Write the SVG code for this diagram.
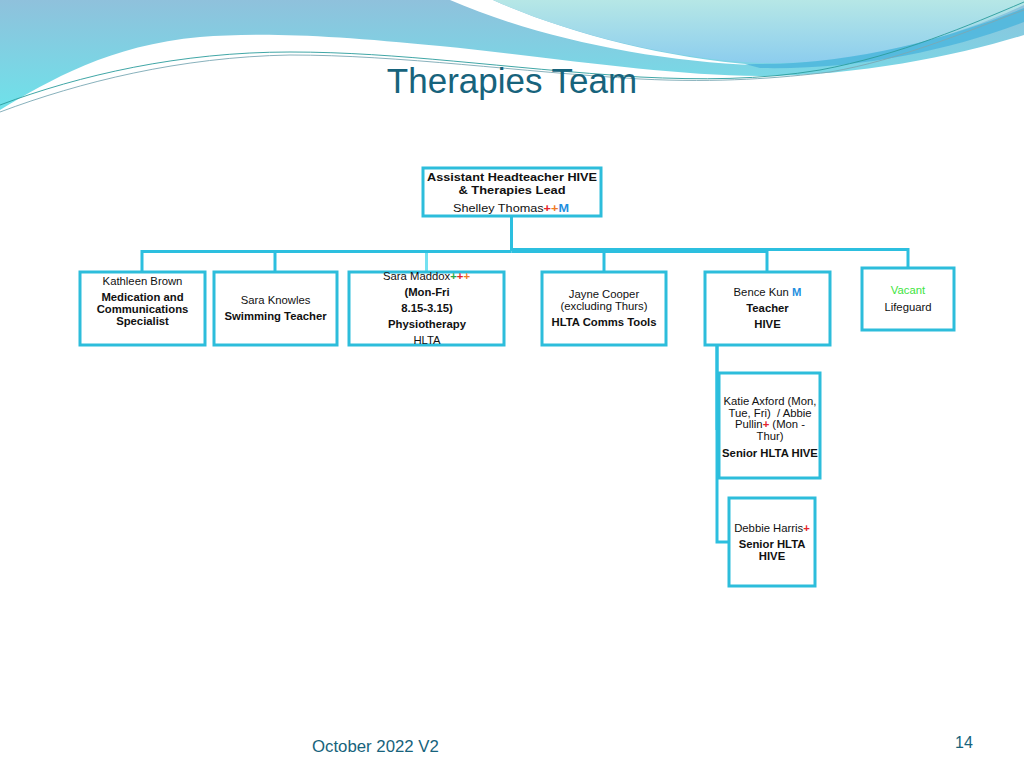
<svg xmlns="http://www.w3.org/2000/svg" width="1024" height="768" viewBox="0 0 1024 768">
  <defs>
    <linearGradient id="gLeft" x1="0" y1="0" x2="0" y2="1">
      <stop offset="0" stop-color="#8fc1dc"/>
      <stop offset="1" stop-color="#6ee2ea"/>
    </linearGradient>
    <linearGradient id="gBlob" x1="0" y1="0" x2="0" y2="1">
      <stop offset="0" stop-color="#b6e7e6"/>
      <stop offset="1" stop-color="#8ccdee"/>
    </linearGradient>
    <style>
      .box { fill: #ffffff; stroke: #2dbddb; stroke-width: 3; }
      .con { fill: none; stroke: #2cbfdf; stroke-width: 3; }
      .conl { fill: none; stroke: #74e1f1; stroke-width: 3; }
      .t { font-family: "Liberation Sans", Arial, sans-serif; font-size: 11.3px; fill: #111111; text-anchor: middle; }
      .b { font-weight: bold; }
      .red { fill: #e4242c; font-weight: bold; }
      .org { fill: #f07a22; font-weight: bold; }
      .grn { fill: #2aa845; font-weight: bold; }
      .blu { fill: #1f8fe0; font-weight: bold; }
      .vac { fill: #3ee43e; }
      .teal { font-family: "Liberation Sans", Arial, sans-serif; fill: #17637c; }
      .wl { fill: none; stroke-width: 0.9; }
    </style>
  </defs>

  <rect x="0" y="0" width="1024" height="768" fill="#ffffff"/>

  <!-- header background -->
  <g id="header-bg">
    <path d="M0,0 L1024,0 L1024,35 C960,55 860,76 760,76 C660,75 560,58 440,46 C330,35 260,32 200,37 C110,45 50,80 0,110 Z" fill="url(#gLeft)"/>
    <path d="M450,0 C530,35 650,62 757,65 C660,58 560,30 493,0 Z" fill="#ffffff"/>
    <path d="M493,0 C560,30 660,58 760,63 C860,66 960,35 1024,5 L1024,0 Z" fill="url(#gBlob)"/>
    <path d="M745,64 C850,66 950,38 1024,8 L1024,22 C950,50 860,70 760,68 Z" fill="#4db6dd" opacity="0.85"/>
    <path class="wl" stroke="#2a9c9c" d="M0,105 C80,75 180,52 290,52 C400,52 500,68 640,77 C700,80 760,80 820,70 C900,55 970,25 1024,2"/>
    <path class="wl" stroke="#7aa8b4" d="M0,112 C80,82 180,57 290,55 C400,55 520,72 640,79 C720,83 780,78 830,72 C900,60 970,30 1024,10"/>
  </g>

  <text class="teal" x="512" y="93" font-size="35" text-anchor="middle">Therapies Team</text>

  <!-- connectors -->
  <g id="connectors">
    <path class="con" d="M511.5,216 V249.5 H908 V268"/>
    <path class="con" d="M511.5,251.5 H142 V272"/>
    <path class="con" d="M275,251.5 V272"/>
    <path class="conl" d="M426.5,253 V272"/>
    <path class="con" d="M511.5,251.5 H767 V272"/>
    <path class="con" d="M604,251.5 V272"/>
    <path class="con" d="M717,345 V542 H729"/>
    <path class="con" stroke="#1ea6dc" d="M717,345 V430"/>
  </g>

  <g id="node-shelley">
    <rect class="box" x="423" y="168" width="178" height="48"/>
    <text class="t b" x="512" y="180.5" font-size="13.3" textLength="170" lengthAdjust="spacingAndGlyphs">Assistant Headteacher HIVE</text>
    <text class="t b" x="512" y="194" font-size="13.3" textLength="107" lengthAdjust="spacingAndGlyphs">&amp; Therapies Lead</text>
    <text class="t" x="511" y="211.7" font-size="13" textLength="116" lengthAdjust="spacingAndGlyphs">Shelley Thomas<tspan class="red">+</tspan><tspan class="org">+</tspan><tspan class="blu" font-weight="normal">M</tspan></text>
  </g>

  <g id="node-kathleen">
    <rect class="box" x="80" y="272" width="125" height="73"/>
    <text class="t" x="142.5" y="285">Kathleen Brown</text>
    <text class="t b" x="142.5" y="301">Medication and</text>
    <text class="t b" x="142.5" y="313">Communications</text>
    <text class="t b" x="142.5" y="325">Specialist</text>
  </g>

  <g id="node-sara-knowles">
    <rect class="box" x="214" y="272" width="123" height="73"/>
    <text class="t" x="275.5" y="304">Sara Knowles</text>
    <text class="t b" x="275.5" y="320">Swimming Teacher</text>
  </g>

  <g id="node-sara-maddox">
    <rect class="box" x="349" y="272" width="155" height="73"/>
    <text class="t" x="426.5" y="279.5">Sara Maddox<tspan class="grn">+</tspan><tspan class="red">+</tspan><tspan class="org">+</tspan></text>
    <text class="t b" x="427" y="296">(Mon-Fri</text>
    <text class="t b" x="427" y="312">8.15-3.15)</text>
    <text class="t b" x="427" y="327.5">Physiotherapy</text>
    <text class="t" x="427" y="343.5">HLTA</text>
  </g>

  <g id="node-jayne">
    <rect class="box" x="542" y="272" width="124" height="73"/>
    <text class="t" x="604" y="297.5">Jayne Cooper</text>
    <text class="t" x="604" y="309.5">(excluding Thurs)</text>
    <text class="t b" x="604" y="325.5">HLTA Comms Tools</text>
  </g>

  <g id="node-bence">
    <rect class="box" x="705" y="272" width="125" height="73"/>
    <text class="t" x="767.5" y="295.5">Bence Kun <tspan class="blu">M</tspan></text>
    <text class="t b" x="767.5" y="312">Teacher</text>
    <text class="t b" x="767.5" y="327.5">HIVE</text>
  </g>

  <g id="node-vacant">
    <rect class="box" x="862" y="268" width="92" height="62"/>
    <text class="t vac" x="908" y="293.5">Vacant</text>
    <text class="t" x="908" y="310.5">Lifeguard</text>
  </g>

  <g id="node-katie">
    <rect class="box" x="719" y="373" width="101" height="105"/>
    <text class="t" x="770" y="404.5">Katie Axford (Mon,</text>
    <text class="t" x="770" y="416.5">Tue, Fri)&#160; / Abbie</text>
    <text class="t" x="770" y="428">Pullin<tspan class="red">+</tspan> (Mon -</text>
    <text class="t" x="770" y="440">Thur)</text>
    <text class="t b" x="770" y="456.5">Senior HLTA HIVE</text>
  </g>

  <g id="node-debbie">
    <rect class="box" x="729" y="498" width="86" height="88"/>
    <text class="t" x="772" y="532">Debbie Harris<tspan class="red">+</tspan></text>
    <text class="t b" x="772" y="548">Senior HLTA</text>
    <text class="t b" x="772" y="560">HIVE</text>
  </g>

  <g id="footer">
    <text class="teal" x="312" y="751.5" font-size="16.8">October 2022 V2</text>
    <text class="teal" x="964" y="748" font-size="16" text-anchor="middle">14</text>
  </g>
</svg>
